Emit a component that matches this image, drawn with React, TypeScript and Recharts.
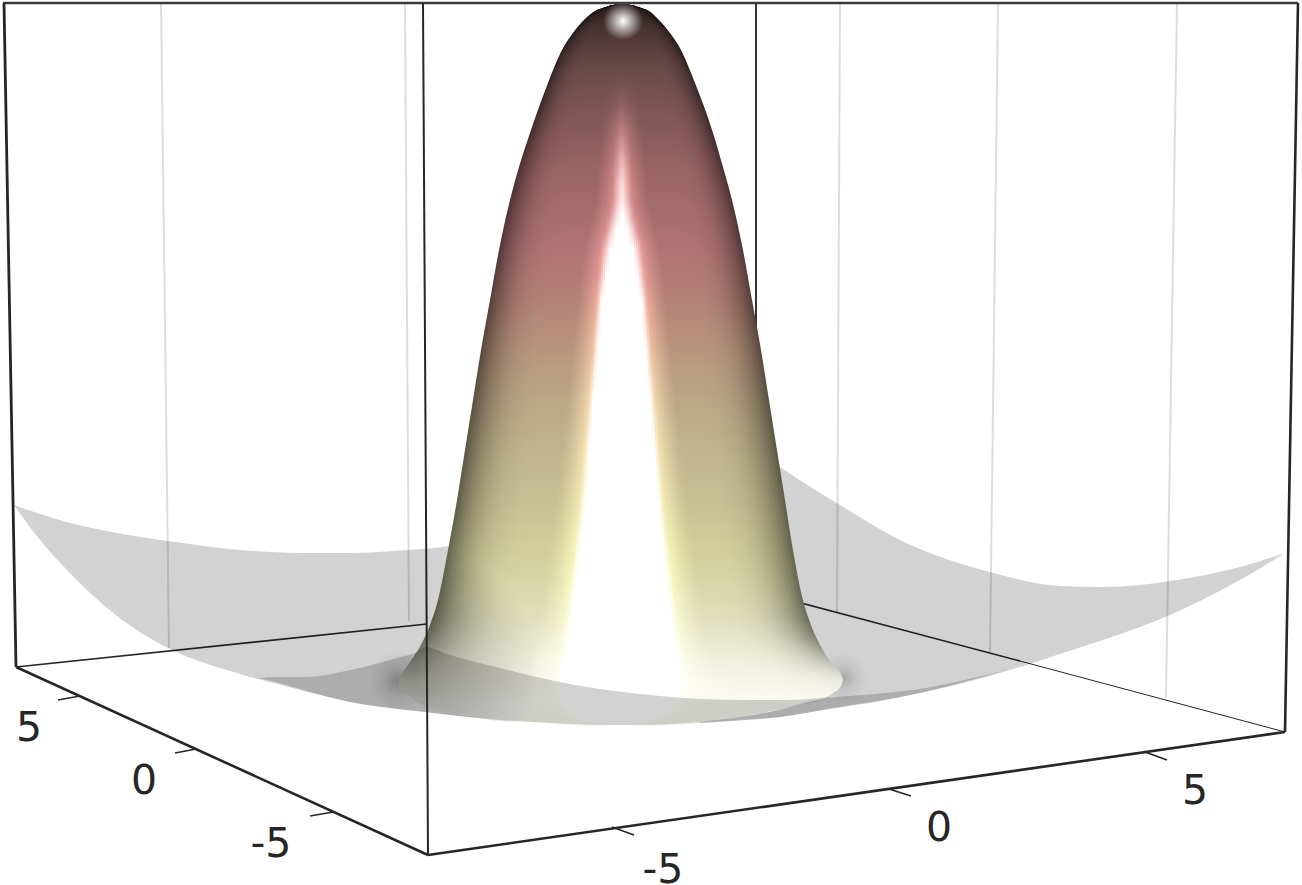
import { Area, ComposedChart, Line, ReferenceDot, XAxis, YAxis } from 'recharts';

const WIDTH = 1302;
const HEIGHT = 885;

// picture coordinates, they go through the hidden number axes
const sheetX = [14, 40, 67, 117, 168, 240, 300, 350, 407, 450, 500, 560, 620, 700, 780, 840, 900, 990, 1060, 1100, 1140, 1170, 1200, 1240, 1285];
const sheetUpper = [505, 514, 522, 533, 541, 550, 553, 553, 550, 546, 530, 480, 400, 405, 467, 505, 540, 572, 586, 587, 585, 581, 576, 567, 553];
const sheetLower = [505, 540, 570, 616, 648, 674, 690, 702, 710, 715, 720, 724, 726, 723, 717, 707, 697, 676, 654, 641, 627, 615, 601, 580, 553];

const bellX = [398, 400, 408, 418, 430, 438, 448, 457, 465, 473, 481, 490, 499, 510, 519, 530, 548, 562, 573, 584, 595, 604, 610, 622, 634, 640, 649, 659, 670, 681, 695, 713, 723, 732, 743, 752, 761, 769, 777, 785, 793, 803, 811, 823, 833, 841, 843];
const bellTop = [682, 677, 665, 650, 625, 600, 550, 500, 450, 400, 350, 300, 250, 200, 167, 133, 83, 50, 33, 20, 11, 7.5, 5.5, 4, 5.5, 7.5, 11, 20, 33, 50, 83, 133, 167, 200, 250, 300, 350, 400, 450, 500, 550, 600, 625, 650, 665, 674, 679];
const bellBottom = [683, 688, 696, 703, 708, 709, 712, 714, 715, 717, 718, 720, 721, 722, 722, 723, 724, 725, 725, 726, 726, 726, 726, 726, 726, 726, 726, 725, 725, 725, 723, 720, 719, 718, 716, 715, 713, 712, 710, 708, 706, 703, 701, 699, 693, 686, 680];

const frontX = [258, 283, 307, 350, 397, 417, 425, 450, 500, 550, 600, 650, 700, 750, 787, 830];
const frontTop = [678, 677, 677, 670, 658, 652, 647, 655, 668, 680, 689, 695, 699, 700, 700, 697];
const frontBottom = [678, 684, 691, 702, 709, 711, 712, 715, 720, 723, 725, 725, 722, 715, 708, 698];

const wedgeX = [700, 740, 780, 830, 875, 920, 960, 1005];
const wedgeTop = [722, 717, 710, 698, 694, 689, 681, 670];
const wedgeBottom = [723, 720, 717, 709, 702, 693, 683, 670];

const wallLines = [
  [161, 3, 169, 648],
  [405, 3, 409, 621],
  [840, 3, 837, 612],
  [998, 3, 990, 652],
  [1177, 3, 1166, 698],
];

const backBox = [
  [3, 3, 1298, 3, 2.6, '#3a3a3a'],
  [4, 3, 16, 667, 2.8, '#262626'],
  [1298, 3, 1285, 732, 2.6, '#262626'],
  [756, 3, 756, 591, 2, '#333333'],
  [16, 667, 427, 624, 1.6, '#262626'],
  [756, 591, 1020, 661, 1.6, '#262626'],
  [1020, 661, 1285, 732, 1, '#262626'],
];

const frontBox = [
  [423, 3, 428, 855, 2, '#262626'],
  [16, 667, 428, 855, 2.6, '#262626'],
  [428, 855, 1285, 732, 2.6, '#262626'],
  [58, 700, 80, 696, 1.6, '#262626'],
  [175, 753, 196, 749, 1.6, '#262626'],
  [310, 816, 333, 812, 1.6, '#262626'],
  [612, 827, 634, 835, 1.6, '#262626'],
  [889, 789, 911, 796, 1.6, '#262626'],
  [1145, 752, 1167, 760, 1.6, '#262626'],
];

const tickLabels = [
  { x: 29, y: 726, text: '5' },
  { x: 144, y: 779, text: '0' },
  { x: 271, y: 842, text: '-5' },
  { x: 663, y: 868, text: '-5' },
  { x: 939, y: 826, text: '0' },
  { x: 1195, y: 789, text: '5' },
];

// colour of the peak along its height, away from edge and highlight
const colourStops: Array<[number, number[]]> = [
  [4, [38, 24, 24]],
  [30, [74, 52, 52]],
  [70, [106, 74, 74]],
  [110, [126, 85, 85]],
  [170, [154, 100, 100]],
  [250, [176, 116, 116]],
  [300, [180, 130, 118]],
  [350, [184, 150, 126]],
  [400, [187, 166, 134]],
  [450, [192, 180, 141]],
  [500, [200, 192, 147]],
  [550, [208, 207, 155]],
  [580, [214, 214, 166]],
  [620, [224, 224, 190]],
  [660, [240, 240, 222]],
  [700, [251, 251, 245]],
];

// half width of the white core, as a share of the peak's half width
const coreStops: Array<[number, number]> = [
  [205, 0],
  [250, 0.1],
  [300, 0.16],
  [400, 0.2],
  [500, 0.23],
  [600, 0.27],
  [690, 0.28],
];

const CENTER = 622;
const LEVELS = 60;

const lerp = (a: number, b: number, t: number) => a + (b - a) * t;
const clamp = (t: number) => Math.min(1, Math.max(0, t));
const smooth = (a: number, b: number, v: number) => {
  const t = clamp((v - a) / (b - a));
  return t * t * (3 - 2 * t);
};

function baseColour(y: number) {
  for (let i = 1; i < colourStops.length; i++) {
    const [y1, c1] = colourStops[i];
    if (y <= y1) {
      const [y0, c0] = colourStops[i - 1];
      return c0.map((c, k) => lerp(c, c1[k], clamp((y - y0) / (y1 - y0))));
    }
  }
  return colourStops[colourStops.length - 1][1];
}

function coreWidth(y: number) {
  if (y < coreStops[0][0]) return 0;
  for (let i = 1; i < coreStops.length; i++) {
    const [y1, w1] = coreStops[i];
    if (y <= y1) {
      const [y0, w0] = coreStops[i - 1];
      return lerp(w0, w1, (y - y0) / (y1 - y0));
    }
  }
  return coreStops[coreStops.length - 1][1];
}

function shade(u: number, y: number) {
  const base = baseColour(y);
  const edge = lerp(0.5, 1, smooth(620, 695, y));
  const side = 1 - (1 - edge) * Math.pow(clamp((u - 0.5) / 0.5), 3);
  const peak = Math.max(...base);
  const bright = base.map((c) => (c * 255) / peak);
  const glow = y >= 205 ? 1 : smooth(70, 205, y);
  const core = coreWidth(y);
  const past = Math.max(u - core, 0);
  const halo = glow * Math.pow(clamp(1 - past / lerp(0.25, 0.18, smooth(205, 330, y))), 1.3);
  const whiteEdge = lerp(0.1, 0.035, smooth(205, 330, y));
  const white = (y >= 205 ? 1 : Math.pow(glow, 3) * 0.9) * Math.pow(clamp(1 - past / whiteEdge), 1.2);
  const rgb = base.map((c, k) => lerp(lerp(c * side, bright[k], halo), 255, white));
  return `rgb(${rgb.map((c) => Math.round(clamp(c / 255) * 255)).join(',')})`;
}

const gradientY = [4, 15, 30, 50, 70, 90, 110, 130, 150, 170, 185, 200, 215, 230, 250, 275, 300, 350, 400, 450, 500, 550, 580, 600, 620, 640, 660, 680, 700];
const levels = Array.from({ length: LEVELS }, (_, i) => 1 - i / LEVELS);

const segment = (row: Array<number | string>) => [
  { x: row[0], y: row[1] },
  { x: row[2], y: row[3] },
];

const toRange = (xs: number[], a: number[], b: number[]) => xs.map((x, i) => ({ x, range: [a[i], b[i]] }));

const sheetData = toRange(sheetX, sheetUpper, sheetLower);
const frontData = toRange(frontX, frontTop, frontBottom);
const wedgeData = toRange(wedgeX, wedgeTop, wedgeBottom);

const bellLevel = (u: number) =>
  bellX.map((x, i) => ({ x: CENTER + (x - CENTER) * u, range: [bellTop[i], bellBottom[i]] }));

const box = (x0: number, x1: number, y0: number, y1: number) => [
  { x: x0, range: [y0, y1] },
  { x: x1, range: [y0, y1] },
];

export default function App() {
  return (
    <div style={{ position: 'absolute', left: 0, top: 0, width: WIDTH, height: HEIGHT }}>
      <ComposedChart width={WIDTH} height={HEIGHT} margin={{ top: 0, right: 0, bottom: 0, left: 0 }}>
        <defs>
          {levels.map((u, i) => (
            <linearGradient key={i} id={`bell-${i}`} gradientUnits="userSpaceOnUse" x1="0" y1="0" x2="0" y2={HEIGHT}>
              {gradientY.map((y) => (
                <stop key={y} offset={y / HEIGHT} stopColor={shade(u, y)} />
              ))}
            </linearGradient>
          ))}
          <radialGradient id="spot">
            <stop offset="0" stopColor="#fff" stopOpacity={1} />
            <stop offset="0.3" stopColor="#fff" stopOpacity={0.7} />
            <stop offset="1" stopColor="#fff" stopOpacity={0} />
          </radialGradient>
          <radialGradient id="blobLeft">
            <stop offset="0" stopColor="#000" stopOpacity={0.25} />
            <stop offset="0.5" stopColor="#000" stopOpacity={0.08} />
            <stop offset="1" stopColor="#000" stopOpacity={0} />
          </radialGradient>
          <radialGradient id="blobRight">
            <stop offset="0" stopColor="#000" stopOpacity={0.2} />
            <stop offset="0.5" stopColor="#000" stopOpacity={0.06} />
            <stop offset="1" stopColor="#000" stopOpacity={0} />
          </radialGradient>
          <radialGradient id="baseLeft" gradientUnits="userSpaceOnUse" cx="415" cy="670" r="125">
            <stop offset="0" stopColor="#000" stopOpacity={0.3} />
            <stop offset="1" stopColor="#000" stopOpacity={0} />
          </radialGradient>
        </defs>
        <XAxis hide type="number" dataKey="x" domain={[0, WIDTH]} allowDataOverflow />
        <YAxis hide type="number" domain={[0, HEIGHT]} reversed allowDataOverflow />

        {wallLines.map((row, i) => (
          <Line key={i} data={segment(row)} dataKey="y" stroke="#dddddd" strokeWidth={2} dot={false} activeDot={false} isAnimationActive={false} zIndex={100} />
        ))}
        {backBox.map((row, i) => (
          <Line key={i} data={segment(row)} dataKey="y" stroke={row[5] as string} strokeWidth={row[4] as number} dot={false} activeDot={false} isAnimationActive={false} zIndex={100} />
        ))}

        <Area data={sheetData} dataKey="range" type="monotone" stroke="none" fill="#000" fillOpacity={0.175} activeDot={false} isAnimationActive={false} zIndex={101} />
        <Area data={box(368, 428, 651, 711)} dataKey="range" stroke="none" fill="url(#blobLeft)" fillOpacity={1} activeDot={false} isAnimationActive={false} zIndex={101} />
        <Area data={box(817, 869, 652, 704)} dataKey="range" stroke="none" fill="url(#blobRight)" fillOpacity={1} activeDot={false} isAnimationActive={false} zIndex={101} />

        {levels.map((u, i) => (
          <Area key={i} data={bellLevel(u)} dataKey="range" type="monotone" stroke="none" fill={`url(#bell-${i})`} fillOpacity={1} activeDot={false} isAnimationActive={false} zIndex={102} />
        ))}
        <Area data={bellLevel(1)} dataKey="range" type="monotone" stroke="none" fill="url(#baseLeft)" fillOpacity={1} activeDot={false} isAnimationActive={false} zIndex={103} />
        <Area data={box(603, 643, 2, 40)} dataKey="range" stroke="none" fill="url(#spot)" fillOpacity={1} activeDot={false} isAnimationActive={false} zIndex={103} />

        <Area data={frontData} dataKey="range" type="monotone" stroke="none" fill="#000" fillOpacity={0.175} activeDot={false} isAnimationActive={false} zIndex={104} />
        <Area data={wedgeData} dataKey="range" type="monotone" stroke="none" fill="#000" fillOpacity={0.175} activeDot={false} isAnimationActive={false} zIndex={104} />

        {frontBox.map((row, i) => (
          <Line key={i} data={segment(row)} dataKey="y" stroke={row[5] as string} strokeWidth={row[4] as number} dot={false} activeDot={false} isAnimationActive={false} zIndex={105} />
        ))}
        {tickLabels.map((t) => (
          <ReferenceDot
            key={`${t.x}`}
            x={t.x}
            y={t.y}
            r={0}
            stroke="none"
            fill="none"
            label={{ value: t.text, position: 'center', fontSize: 41, fontFamily: 'DejaVu Sans', fill: '#262626' }}
          />
        ))}
      </ComposedChart>
    </div>
  );
}
